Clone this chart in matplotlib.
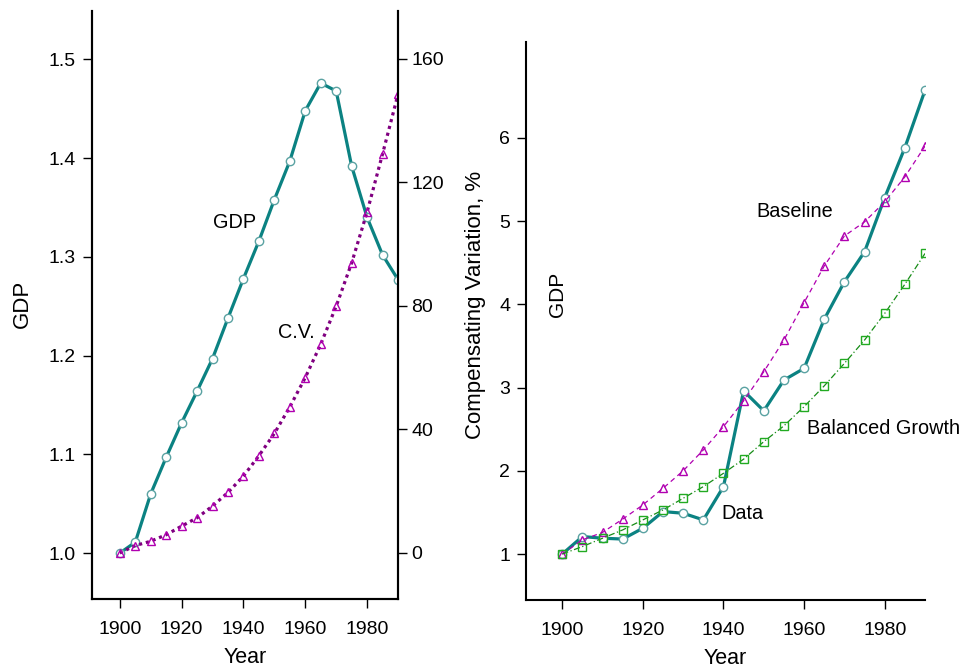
import matplotlib
matplotlib.use("Agg")
import matplotlib.pyplot as plt

plt.rcParams['font.family'] = ['Liberation Sans', 'DejaVu Sans']

# data
years = [1900, 1905, 1910, 1915, 1920, 1925, 1930, 1935, 1940, 1945,
         1950, 1955, 1960, 1965, 1970, 1975, 1980, 1985, 1990]
gdp_left = [1.000, 1.011, 1.060, 1.097, 1.132, 1.164, 1.197, 1.238, 1.278, 1.316,
            1.358, 1.397, 1.448, 1.476, 1.468, 1.392, 1.340, 1.302, 1.277]
cv_left = [0.0, 2.4, 3.8, 5.9, 8.7, 11.4, 15.2, 19.6, 24.9, 31.5,
           38.7, 47.3, 56.8, 67.6, 79.9, 93.9, 110.4, 129.2, 148.5]
data_gdp = [1.00, 1.21, 1.19, 1.18, 1.31, 1.51, 1.49, 1.41, 1.81, 2.96,
            2.72, 3.09, 3.23, 3.82, 4.27, 4.63, 5.28, 5.88, 6.57]
baseline_gdp = [1.00, 1.17, 1.26, 1.42, 1.59, 1.79, 2.00, 2.25, 2.53, 2.84,
                3.19, 3.57, 4.02, 4.46, 4.82, 4.99, 5.23, 5.53, 5.90]
balanced_gdp = [1.00, 1.09, 1.19, 1.29, 1.41, 1.53, 1.67, 1.81, 1.97, 2.14,
                2.35, 2.54, 2.77, 3.02, 3.29, 3.57, 3.89, 4.24, 4.61]
x_ticks = [1900, 1920, 1940, 1960, 1980]
gdp_ticks = [1.0, 1.1, 1.2, 1.3, 1.4, 1.5]
cv_ticks = [0, 40, 80, 120, 160]
right_ticks = [1, 2, 3, 4, 5, 6]

teal = '#0b8282'
circ_edge = '#5aa2a2'
purple = '#800080'
magenta = '#b000b0'
green_line = '#168c16'
green_mark = '#22aa22'
fs_tick = 14
fs_lab = 16
fs_note = 14.3

W, H = 963, 671
fig = plt.figure(figsize=(W / 100, H / 100), dpi=100)

def style(ax, sides):
    for s in ['left', 'right', 'top', 'bottom']:
        ax.spines[s].set_visible(s in sides)
        ax.spines[s].set_linewidth(1.5)
    ax.tick_params(direction='out', length=6.5, width=1, labelsize=fs_tick, pad=5)
    ax.tick_params(axis='x', pad=9)

# ---- left panel ----
ax1 = fig.add_axes([92 / W, 1 - 599 / H, 306 / W, 588 / H])
ax1.plot(years, gdp_left, '-', color=teal, lw=2.3, marker='o', ms=6,
         mfc='white', mec=circ_edge, mew=1, zorder=3)
ax1.set_xlim(1891, 1990)
ax1.set_ylim(0.9535, 1.549)
ax1.set_xticks(x_ticks)
ax1.set_yticks(gdp_ticks)
ax1.set_yticklabels([f'{v:.1f}' for v in gdp_ticks])
style(ax1, ['left', 'right', 'bottom'])
ax1.set_xlabel('Year', fontsize=15.5, labelpad=7)

ax1b = ax1.twinx()
ax1b.plot(years, cv_left, linestyle=(0, (1, 1.2)), color=purple, lw=2.3,
          marker='^', ms=6, mfc='none', mec=magenta, mew=1)
ax1b.set_ylim(-14.9, 175.5)
ax1b.set_yticks(cv_ticks)
style(ax1b, ['left', 'right', 'bottom'])
ax1b.tick_params(axis='y', pad=3)

ax1.text(1937.2, 1.335, 'GDP', fontsize=fs_note, ha='center', va='center')
ax1b.text(1957, 71.4, 'C.V.', fontsize=fs_note, ha='center', va='center')

fig.text(22 / W, 1 - 304 / H, 'GDP', rotation=90, fontsize=fs_lab,
         ha='center', va='center')
fig.text(475 / W, 1 - 305 / H, 'Compensating Variation, %', rotation=90,
         fontsize=fs_lab, ha='center', va='center')

# ---- right panel ----
ax2 = fig.add_axes([526 / W, 1 - 600 / H, 399 / W, 558 / H])
ax2.plot(years, data_gdp, '-', color=teal, lw=2.3, marker='o', ms=6,
         mfc='white', mec=circ_edge, mew=1)
ax2.plot(years, baseline_gdp, linestyle=(0, (4, 3)), color=magenta, lw=0.9,
         marker='^', ms=6, mfc='none', mec=magenta, mew=1)
ax2.plot(years, balanced_gdp, linestyle=(0, (5, 2, 1, 2)), color=green_line, lw=0.9,
         marker='s', ms=6, mfc='none', mec=green_mark, mew=1)
ax2.set_xlim(1891, 1990)
ax2.set_ylim(0.448, 7.15)
ax2.set_xticks(x_ticks)
ax2.set_yticks(right_ticks)
style(ax2, ['left', 'bottom'])
ax2.set_xlabel('Year', fontsize=15.5, labelpad=7)

ax2.text(1957.6, 5.11, 'Baseline', fontsize=fs_note, ha='center', va='center')
ax2.text(1979.8, 2.51, 'Balanced Growth', fontsize=fs_note, ha='center', va='center')
ax2.text(1944.8, 1.49, 'Data', fontsize=fs_note, ha='center', va='center')

fig.text(558 / W, 1 - 294 / H, 'GDP', rotation=90, fontsize=15,
         ha='center', va='center')

fig.savefig('out.png', dpi=100)
